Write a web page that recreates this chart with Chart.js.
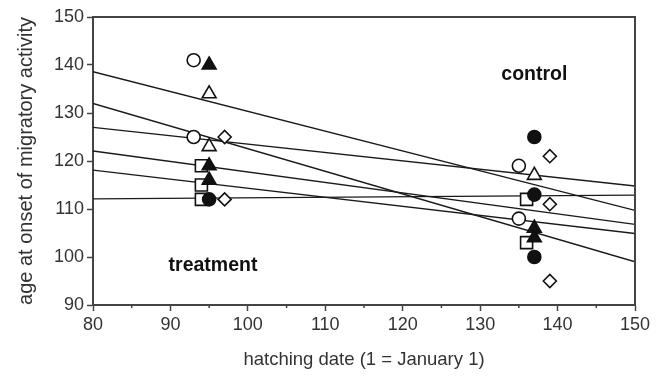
<!DOCTYPE html>
<html>
<head>
<meta charset="utf-8">
<script src="https://cdn.jsdelivr.net/npm/chart.js@4.4.1/dist/chart.umd.min.js"></script>
<style>
  html, body { margin: 0; padding: 0; background: #fff; }
  #wrap { width: 664px; height: 376px; }
</style>
</head>
<body>
<div id="wrap"><canvas id="chart" width="664" height="376"></canvas></div>
<script>
"use strict";

// x ticks and y ticks
var xTicks = [80, 90, 100, 110, 120, 130, 140, 150];
var yTicks = [90, 100, 110, 120, 130, 140, 150];

// points, one array pair per marker kind (treatment ~ day 93-97, control ~ day 135-139)
var openCircleX = [93, 93, 135, 135];
var openCircleY = [141, 125, 119, 108];
var filledCircleX = [95, 137, 137, 137];
var filledCircleY = [112, 125, 113, 100];
var openTriangleX = [95, 95, 137];
var openTriangleY = [134, 123, 117];
var filledTriangleX = [95, 95, 95, 137, 137];
var filledTriangleY = [140, 119, 116, 106, 104];
var openSquareX = [94, 94, 94, 136, 136];
var openSquareY = [119, 115, 112, 112, 103];
var openDiamondX = [97, 97, 139, 139, 139];
var openDiamondY = [125, 112, 121, 111, 95];

// regression lines, value at x = 80 and at x = 150
var lineX = [80, 150];
var lineStart = [138.6, 132.0, 127.0, 122.1, 118.1, 112.1];
var lineEnd = [109.7, 99.0, 114.8, 106.8, 104.9, 112.9];

// group labels inside the plot
var noteText = ["control", "treatment"];
var noteX = [137, 95.5];
var noteY = [138, 98.3];

var FONT = "'Liberation Sans', Arial, Helvetica, sans-serif";
var INK = "#333";

function pts(xs, ys) {
    var out = [];
    for (var i = 0; i < xs.length; i++) out.push({ x: xs[i], y: ys[i] });
    return out;
}

function markers(xs, ys, style, filled, r) {
    return {
        type: "scatter",
        data: pts(xs, ys),
        pointStyle: style,
        pointRadius: r,
        pointHoverRadius: r,
        pointBorderWidth: 1.6,
        pointBorderColor: "#111",
        pointBackgroundColor: filled ? "#111" : "#fff",
        order: 0
    };
}

var datasets = [];
for (var k = 0; k < lineStart.length; k++) {
    datasets.push({
        type: "line",
        data: pts(lineX, [lineStart[k], lineEnd[k]]),
        borderColor: "#1a1a1a",
        borderWidth: 1.4,
        pointRadius: 0,
        fill: false,
        order: 5
    });
}
datasets.push(markers(openCircleX, openCircleY, "circle", false, 6.5));
datasets.push(markers(filledCircleX, filledCircleY, "circle", true, 6.5));
datasets.push(markers(openTriangleX, openTriangleY, "triangle", false, 8));
datasets.push(markers(filledTriangleX, filledTriangleY, "triangle", true, 8));
datasets.push(markers(openSquareX, openSquareY, "rect", false, 8.5));
datasets.push(markers(openDiamondX, openDiamondY, "rectRot", false, 6.5));

// frame, minor x ticks, group labels
var extras = {
    id: "extras",
    afterDraw: function (chart) {
        var ctx = chart.ctx, a = chart.chartArea;
        var xs = chart.scales.x, ys = chart.scales.y;
        ctx.save();
        ctx.strokeStyle = "#444";
        ctx.lineWidth = 2;
        ctx.beginPath();
        ctx.moveTo(a.left, a.top);
        ctx.lineTo(a.right, a.top);
        ctx.lineTo(a.right, a.bottom);
        ctx.stroke();
        // short ticks half way between labelled ones
        ctx.lineWidth = 1.5;
        for (var i = 0; i < xTicks.length - 1; i++) {
            var px = xs.getPixelForValue((xTicks[i] + xTicks[i + 1]) / 2);
            ctx.beginPath();
            ctx.moveTo(px, a.bottom);
            ctx.lineTo(px, a.bottom + 3);
            ctx.stroke();
        }
        ctx.fillStyle = "#111";
        ctx.font = "bold 19.5px " + FONT;
        ctx.textAlign = "center";
        ctx.textBaseline = "middle";
        for (var j = 0; j < noteText.length; j++) {
            ctx.fillText(noteText[j], xs.getPixelForValue(noteX[j]), ys.getPixelForValue(noteY[j]));
        }
        ctx.restore();
    }
};

new Chart(document.getElementById("chart"), {
    data: { datasets: datasets },
    plugins: [extras],
    options: {
        responsive: false,
        animation: false,
        layout: { padding: { left: 14, top: 17, right: 29, bottom: 5 } },
        plugins: { legend: { display: false }, tooltip: { enabled: false } },
        scales: {
            x: {
                type: "linear",
                min: xTicks[0],
                max: xTicks[xTicks.length - 1],
                afterBuildTicks: function (s) { s.ticks = xTicks.map(function (v) { return { value: v }; }); },
                afterFit: function (s) { s.height = 66; },
                border: { display: true, color: "#444", width: 2 },
                grid: { drawOnChartArea: false, drawTicks: true, tickLength: 6, tickColor: "#444", tickWidth: 1.5 },
                ticks: { color: INK, font: { family: FONT, size: 18 }, padding: 3, maxRotation: 0 },
                title: { display: true, text: "hatching date (1 = January 1)", color: INK, font: { family: FONT, size: 18.5 }, padding: { top: 4, bottom: 0 } }
            },
            y: {
                type: "linear",
                min: yTicks[0],
                max: yTicks[yTicks.length - 1],
                afterBuildTicks: function (s) { s.ticks = yTicks.map(function (v) { return { value: v }; }); },
                afterFit: function (s) { s.width = 79; },
                border: { display: true, color: "#444", width: 2 },
                grid: { drawOnChartArea: false, drawTicks: true, tickLength: 6, tickColor: "#444", tickWidth: 1.5 },
                ticks: { color: INK, font: { family: FONT, size: 18 }, padding: 3 },
                title: { display: true, text: "age at onset of migratory activity", color: INK, font: { family: FONT, size: 20 }, padding: { top: 0, bottom: 0 } }
            }
        }
    }
});
</script>
</body>
</html>
